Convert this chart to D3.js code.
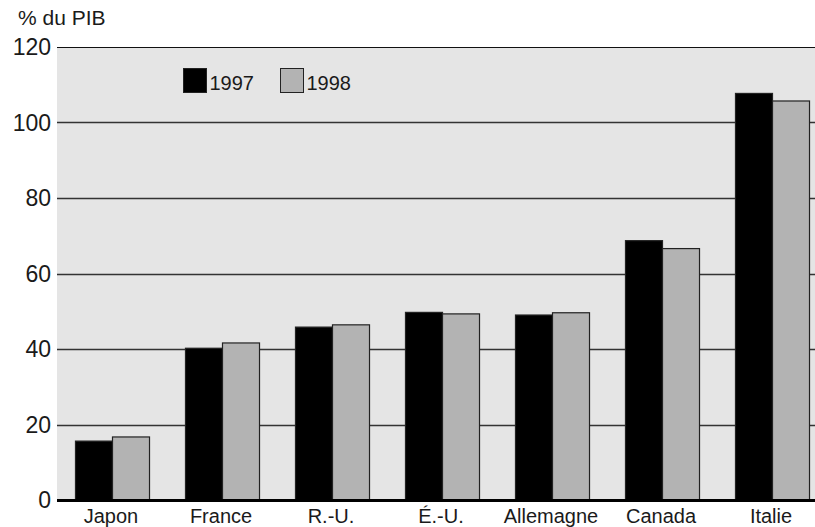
<!DOCTYPE html>
<html>
<head>
<meta charset="utf-8">
<script src="https://cdn.jsdelivr.net/npm/d3@7"></script>
<style>
  html, body { margin: 0; padding: 0; background: #fff; }
  svg { display: block; font-family: "Liberation Sans", Arial, sans-serif; }
</style>
</head>
<body>
<svg id="chart" width="815" height="527"></svg>
<script>
const categories = ["Japon", "France", "R.-U.", "É.-U.", "Allemagne", "Canada", "Italie"];
const series = ["1997", "1998"];
const values1997 = [15.6, 40.2, 45.8, 49.7, 49.0, 68.7, 107.7];
const values1998 = [16.7, 41.6, 46.4, 49.3, 49.6, 66.6, 105.7];
const yTicks = [0, 20, 40, 60, 80, 100, 120];
const yTitle = "% du PIB";
const colors = ["#000000", "#b3b3b3"];

const svg = d3.select("#chart");
const W = 815, H = 527;
const mLeft = 57, mRight = 827, mTop = 47, mBottom = 500;

const x = d3.scaleBand().domain(categories).range([mLeft, mRight]).paddingInner(0.327).paddingOuter(0.1635);
const xs = d3.scaleBand().domain(series).range([0, x.bandwidth()]);
const y = d3.scaleLinear().domain([0, 120]).range([mBottom, mTop]);

// background
svg.append("rect").attr("x", mLeft).attr("y", mTop).attr("width", W - mLeft).attr("height", mBottom - mTop).attr("fill", "#e5e5e5");

// gridlines
svg.append("g").selectAll("line").data(yTicks.filter(d => d > 0)).join("line")
  .attr("x1", mLeft).attr("x2", W)
  .attr("y1", d => Math.round(y(d)) + 0.5).attr("y2", d => Math.round(y(d)) + 0.5)
  .attr("stroke", d => d === 120 ? "#111" : "#333").attr("stroke-width", d => d === 120 ? 1 : 1.3);

// y tick labels
svg.append("g").selectAll("text").data(yTicks).join("text")
  .attr("x", 51).attr("y", d => y(d)).attr("dy", "0.36em")
  .attr("text-anchor", "end").attr("font-size", 23).attr("fill", "#1a1a1a")
  .text(d => d);

svg.append("text").attr("x", 18).attr("y", 25).attr("font-size", 21).attr("fill", "#1a1a1a").text(yTitle);

// bars
const data = categories.map((c, i) => ({c, vals: [values1997[i], values1998[i]]}));
const groups = svg.append("g").selectAll("g").data(data).join("g")
  .attr("transform", d => `translate(${x(d.c)},0)`);
groups.selectAll("rect").data(d => d.vals.map((v, j) => ({s: series[j], v, j}))).join("rect")
  .attr("x", d => xs(d.s) + 0.5)
  .attr("y", d => y(d.v))
  .attr("width", xs.bandwidth())
  .attr("height", d => mBottom - y(d.v))
  .attr("fill", d => colors[d.j])
  .attr("stroke", "#222").attr("stroke-width", 1.2);

// baseline
svg.append("line").attr("x1", mLeft).attr("x2", W).attr("y1", mBottom + 0.5).attr("y2", mBottom + 0.5)
  .attr("stroke", "#000").attr("stroke-width", 3);

// x labels
svg.append("g").selectAll("text").data(categories).join("text")
  .attr("x", d => x(d) + x.bandwidth() / 2 - 1).attr("y", 523)
  .attr("text-anchor", "middle").attr("font-size", 20).attr("fill", "#1a1a1a")
  .text(d => d);

// legend
const legX = [183.5, 280.5];
const leg = svg.append("g").selectAll("g").data(series).join("g")
  .attr("transform", (d, i) => `translate(${legX[i]},68.5)`);
leg.append("rect").attr("width", 23).attr("height", 24).attr("fill", (d, i) => colors[i])
  .attr("stroke", "#222").attr("stroke-width", 1);
leg.append("text").attr("x", 26).attr("y", 21).attr("font-size", 20).attr("fill", "#1a1a1a").text(d => d);
</script>
</body>
</html>
